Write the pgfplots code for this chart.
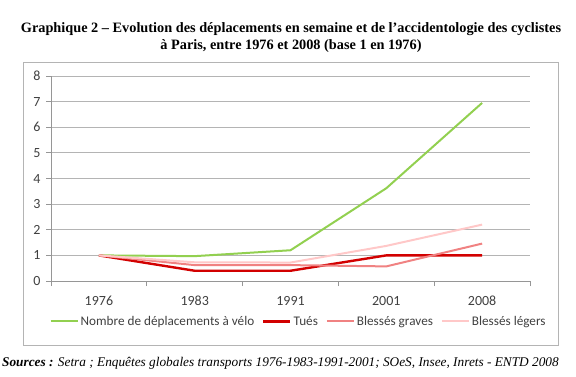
\documentclass[border=0pt]{standalone}
\usepackage{pgfplots}
\pgfplotsset{compat=1.18}
\usepackage{fontspec}
\setmainfont{Carlito}[Numbers=Lining]
\newfontfamily\timesfont{Liberation Serif}
\definecolor{cgreen}{RGB}{146,208,80}
\definecolor{cred}{RGB}{210,0,0}
\definecolor{cgrave}{RGB}{240,130,130}
\definecolor{cleger}{RGB}{255,200,200}
\definecolor{cgrid}{RGB}{180,180,180}
\definecolor{caxis}{RGB}{150,150,150}
\begin{document}
\begin{tikzpicture}[x=1pt,y=1pt]
\useasboundingbox (0pt,0pt) rectangle (576pt,376pt);
% title
\node[font=\timesfont\bfseries\fontsize{14.3}{17}\selectfont, align=center, inner sep=0pt] at (291pt,338pt) {Graphique 2 – Evolution des déplacements en semaine et de l’accidentologie des cyclistes\\à Paris, entre 1976 et 2008 (base 1 en 1976)};
% frame
\draw[color=cgrid, line width=0.8pt] (23pt,31pt) rectangle (558pt,314pt);
% sources
\node[font=\timesfont\fontsize{13.3}{15}\selectfont, anchor=west, inner sep=0pt] at (2pt,13pt) {\textbf{\itshape Sources :} \itshape Setra ; Enquêtes globales transports 1976-1983-1991-2001; SOeS, Insee, Inrets - ENTD 2008};
\begin{axis}[
  at={(51pt,95pt)}, anchor=south west,
  scale only axis, width=479pt, height=205pt,
  xmin=-0.5, xmax=4.5, ymin=0, ymax=8,
  axis x line*=bottom, axis y line*=left,
  axis line style={color=caxis, line width=0.8pt},
  xtick={0,1,2,3,4},
  xticklabels={1976,1983,1991,2001,2008},
  minor xtick={-0.5,0.5,1.5,2.5,3.5,4.5},
  major tick length=5pt, minor tick length=5pt,
  x tick style={draw=none},
  minor x tick style={draw=caxis, line width=0.8pt},
  y tick style={draw=caxis, line width=0.8pt},
  tick align=outside,
  ytick={0,1,...,8},
  ymajorgrids, grid style={color=cgrid, line width=0.8pt},
  ticklabel style={font=\fontsize{14}{17}\selectfont, text=black!75},
  xticklabel style={yshift=-7pt, text height=9pt, text depth=0pt},
  yticklabel style={xshift=-2pt},
  /pgf/number format/assume math mode=true,
  legend columns=4,
  legend style={at={(0.517,-0.16)}, anchor=north, draw=none, fill=none,
    font=\fontsize{13.2}{16}\selectfont, text=black!75,
    /tikz/every even column/.append style={column sep=6pt},
    inner sep=0pt},
  legend image code/.code={\draw[#1] (0pt,0pt) -- (27pt,0pt);},
]
\addplot[cgreen, line width=2pt] coordinates {(0,1) (1,0.97) (2,1.2) (3,3.62) (4,6.95)};
\addlegendentry{Nombre de déplacements à vélo}
\addplot[cred, line width=2.4pt] coordinates {(0,1) (1,0.4) (2,0.4) (3,1.0) (4,1.0)};
\addlegendentry{Tués}
\addplot[cgrave, line width=2pt] coordinates {(0,1) (1,0.62) (2,0.62) (3,0.57) (4,1.46)};
\addlegendentry{Blessés graves}
\addplot[cleger, line width=2pt] coordinates {(0,1) (1,0.73) (2,0.72) (3,1.37) (4,2.2)};
\addlegendentry{Blessés légers}
\end{axis}
\end{tikzpicture}
\end{document}
